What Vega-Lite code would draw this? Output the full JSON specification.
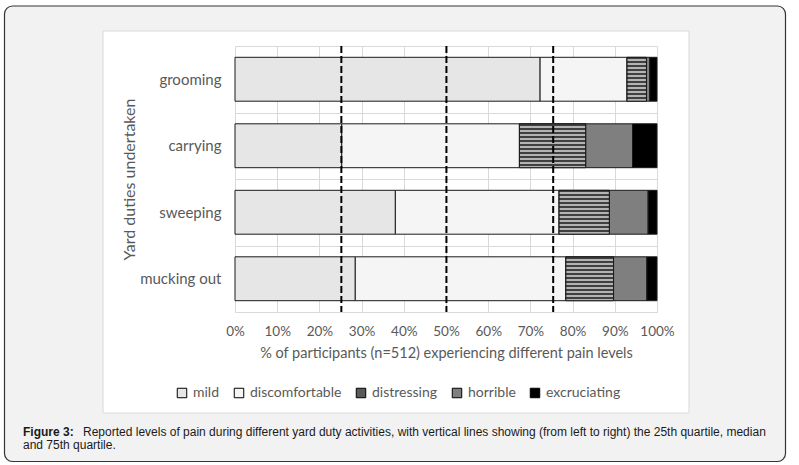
{
  "$schema": "https://vega.github.io/schema/vega-lite/v6.json",
  "width": 422,
  "height": 266,
  "autosize": "none",
  "padding": {"left": 235, "top": 46, "right": 142, "bottom": 153},
  "background": "white",
  "config": {"view": {"stroke": null}, "font": "Lato"},
  "title": {
    "text": "Figure 3:",
    "subtitle": ["\u200b\u00a0\u00a0\u00a0\u00a0\u00a0\u00a0\u00a0\u00a0\u00a0\u00a0\u00a0\u00a0\u00a0\u00a0\u00a0\u00a0\u00a0\u00a0Reported levels of pain during different yard duty activities, with vertical lines showing (from left to right) the 25th quartile, median", "and 75th quartile."],
    "orient": "bottom",
    "anchor": "start",
    "frame": "group",
    "dx": -212,
    "offset": -35,
    "zindex": 1,
    "font": "Liberation Sans",
    "fontSize": 12,
    "fontWeight": "bold",
    "color": "#1a1a1a",
    "subtitleFont": "Liberation Sans",
    "subtitleFontSize": 12,
    "subtitleColor": "#1a1a1a",
    "subtitlePadding": -12,
    "subtitleLineHeight": 13
  },
  "layer": [
    {
      "data": {"values": [{}]},
      "layer": [
        {
          "mark": {"type": "rect", "fill": "#f2f2f2", "cornerRadiusTopLeft": 8, "cornerRadiusTopRight": 8},
          "encoding": {
            "x": {"datum": 4.5, "type": "quantitative", "scale": {"domain": [0, 799], "range": [-235, 564], "nice": false, "zero": false}, "axis": null},
            "x2": {"datum": 785.5},
            "y": {"datum": 6, "type": "quantitative", "scale": {"domain": [0, 465], "range": [-46, 419], "nice": false, "zero": false}, "axis": null},
            "y2": {"datum": 31}
          }
        },
        {
          "mark": {"type": "rect", "fill": "#f2f2f2", "cornerRadiusBottomLeft": 8, "cornerRadiusBottomRight": 8},
          "encoding": {
            "x": {"datum": 4.5, "type": "quantitative"},
            "x2": {"datum": 785.5},
            "y": {"datum": 413, "type": "quantitative"},
            "y2": {"datum": 461.5}
          }
        },
        {
          "mark": {"type": "rect", "fill": "#f2f2f2"},
          "encoding": {
            "x": {"datum": 4.5, "type": "quantitative"},
            "x2": {"datum": 103},
            "y": {"datum": 30.5, "type": "quantitative"},
            "y2": {"datum": 413.5}
          }
        },
        {
          "mark": {"type": "rect", "fill": "#f2f2f2"},
          "encoding": {
            "x": {"datum": 689, "type": "quantitative"},
            "x2": {"datum": 785.5},
            "y": {"datum": 30.5, "type": "quantitative"},
            "y2": {"datum": 413.5}
          }
        },
        {
          "mark": {"type": "rect", "filled": false, "stroke": "#333333", "strokeWidth": 1.2, "cornerRadius": 8},
          "encoding": {
            "x": {"datum": 4.5, "type": "quantitative"},
            "x2": {"datum": 785.5},
            "y": {"datum": 6, "type": "quantitative"},
            "y2": {"datum": 461.5}
          }
        },
        {
          "mark": {"type": "rect", "filled": false, "stroke": "#d9d9d9", "strokeWidth": 1},
          "encoding": {
            "x": {"datum": 103, "type": "quantitative"},
            "x2": {"datum": 689},
            "y": {"datum": 31, "type": "quantitative"},
            "y2": {"datum": 413}
          }
        }
      ]
    },
    {
      "layer": [
        {
          "data": {"name": "pain"},
          "transform": [{"stack": "pct", "groupby": ["duty"], "sort": [{"field": "rank", "order": "ascending"}], "as": ["x0", "x1"]}],
          "mark": {"type": "bar", "stroke": "#1a1a1a", "strokeWidth": 1, "height": {"band": 0.66}},
          "encoding": {
            "x": {
              "field": "x0", "type": "quantitative",
              "scale": {"domain": [0, 100], "nice": false},
              "axis": {
                "orient": "bottom",
                "values": [0, 10, 20, 30, 40, 50, 60, 70, 80, 90, 100],
                "labelExpr": "datum.value + '%'",
                "labelOverlap": false, "labelFlush": false,
                "labelFontSize": 13.5, "labelColor": "#595959", "labelPadding": 12,
                "ticks": false, "domain": true, "domainColor": "#d9d9d9",
                "grid": true, "gridColor": "#d9d9d9",
                "title": "% of participants (n=512) experiencing different pain levels",
                "titleFontSize": 14.5, "titleFontWeight": "normal", "titleColor": "#595959", "titlePadding": 9
              }
            },
            "x2": {"field": "x1"},
            "y": {
              "field": "duty", "type": "nominal",
              "sort": ["grooming", "carrying", "sweeping", "mucking out"],
              "scale": {"paddingInner": 0, "paddingOuter": 0},
              "axis": {
                "orient": "left",
                "labelFontSize": 15, "labelColor": "#595959", "labelPadding": 14,
                "ticks": false, "domain": false,
                "grid": true, "gridColor": "#d9d9d9", "tickBand": "extent",
                "title": "Yard duties undertaken",
                "titleFontSize": 16, "titleFontWeight": "normal", "titleColor": "#595959", "titlePadding": 2
              }
            },
            "color": {
              "field": "level", "type": "nominal",
              "scale": {
                "domain": ["mild", "discomfortable", "distressing", "horrible", "excruciating"],
                "range": ["#e6e6e6", "#f5f5f5", "#595959", "#7f7f7f", "#000000"]
              },
              "legend": {
                "orient": "none", "direction": "horizontal", "legendX": -60, "legendY": 340,
                "title": null, "symbolType": "square", "symbolSize": 90,
                "symbolStrokeColor": "#000000", "symbolStrokeWidth": 1,
                "labelFontSize": 14, "labelColor": "#595959", "columnPadding": 12, "labelOffset": 4
              }
            }
          }
        },
        {
          "data": {"name": "pain"},
          "transform": [
            {"stack": "pct", "groupby": ["duty"], "sort": [{"field": "rank", "order": "ascending"}], "as": ["x0", "x1"]},
            {"filter": "datum.level === 'distressing'"}
          ],
          "mark": {
            "type": "bar", "stroke": "#1a1a1a", "strokeWidth": 1, "height": {"band": 0.66},
            "fill": {
              "gradient": "linear", "x1": 0, "y1": 0, "x2": 0, "y2": 1,
              "stops": [
                {"offset": 0, "color": "#404040"}, {"offset": 0.0455, "color": "#404040"}, {"offset": 0.0455, "color": "#b3b3b3"}, {"offset": 0.0909, "color": "#b3b3b3"},
                {"offset": 0.0909, "color": "#404040"}, {"offset": 0.1364, "color": "#404040"}, {"offset": 0.1364, "color": "#b3b3b3"}, {"offset": 0.1818, "color": "#b3b3b3"},
                {"offset": 0.1818, "color": "#404040"}, {"offset": 0.2273, "color": "#404040"}, {"offset": 0.2273, "color": "#b3b3b3"}, {"offset": 0.2727, "color": "#b3b3b3"},
                {"offset": 0.2727, "color": "#404040"}, {"offset": 0.3182, "color": "#404040"}, {"offset": 0.3182, "color": "#b3b3b3"}, {"offset": 0.3636, "color": "#b3b3b3"},
                {"offset": 0.3636, "color": "#404040"}, {"offset": 0.4091, "color": "#404040"}, {"offset": 0.4091, "color": "#b3b3b3"}, {"offset": 0.4545, "color": "#b3b3b3"},
                {"offset": 0.4545, "color": "#404040"}, {"offset": 0.5, "color": "#404040"}, {"offset": 0.5, "color": "#b3b3b3"}, {"offset": 0.5455, "color": "#b3b3b3"},
                {"offset": 0.5455, "color": "#404040"}, {"offset": 0.5909, "color": "#404040"}, {"offset": 0.5909, "color": "#b3b3b3"}, {"offset": 0.6364, "color": "#b3b3b3"},
                {"offset": 0.6364, "color": "#404040"}, {"offset": 0.6818, "color": "#404040"}, {"offset": 0.6818, "color": "#b3b3b3"}, {"offset": 0.7273, "color": "#b3b3b3"},
                {"offset": 0.7273, "color": "#404040"}, {"offset": 0.7727, "color": "#404040"}, {"offset": 0.7727, "color": "#b3b3b3"}, {"offset": 0.8182, "color": "#b3b3b3"},
                {"offset": 0.8182, "color": "#404040"}, {"offset": 0.8636, "color": "#404040"}, {"offset": 0.8636, "color": "#b3b3b3"}, {"offset": 0.9091, "color": "#b3b3b3"},
                {"offset": 0.9091, "color": "#404040"}, {"offset": 0.9545, "color": "#404040"}, {"offset": 0.9545, "color": "#b3b3b3"}, {"offset": 1, "color": "#b3b3b3"}
              ]
            }
          },
          "encoding": {
            "x": {"field": "x0", "type": "quantitative"},
            "x2": {"field": "x1"},
            "y": {
              "field": "duty", "type": "nominal",
              "sort": ["grooming", "carrying", "sweeping", "mucking out"]
            }
          }
        },
        {
          "data": {"values": [{"quartile": "25th", "q": 25.2}, {"quartile": "median", "q": 50.1}, {"quartile": "75th", "q": 75.4}]},
          "mark": {"type": "rule", "color": "#000000", "strokeWidth": 2, "strokeDash": [7, 3]},
          "encoding": {"x": {"field": "q", "type": "quantitative"}}
        }
      ]
    }
  ],
  "resolve": {"scale": {"x": "independent", "y": "independent"}},
  "datasets": {
    "pain": [
      {"duty": "grooming", "level": "mild", "rank": 1, "pct": 72.3},
      {"duty": "grooming", "level": "discomfortable", "rank": 2, "pct": 20.6},
      {"duty": "grooming", "level": "distressing", "rank": 3, "pct": 4.6},
      {"duty": "grooming", "level": "horrible", "rank": 4, "pct": 0.8},
      {"duty": "grooming", "level": "excruciating", "rank": 5, "pct": 1.7},
      {"duty": "carrying", "level": "mild", "rank": 1, "pct": 25.3},
      {"duty": "carrying", "level": "discomfortable", "rank": 2, "pct": 42.1},
      {"duty": "carrying", "level": "distressing", "rank": 3, "pct": 15.7},
      {"duty": "carrying", "level": "horrible", "rank": 4, "pct": 11.1},
      {"duty": "carrying", "level": "excruciating", "rank": 5, "pct": 5.8},
      {"duty": "sweeping", "level": "mild", "rank": 1, "pct": 38.0},
      {"duty": "sweeping", "level": "discomfortable", "rank": 2, "pct": 38.8},
      {"duty": "sweeping", "level": "distressing", "rank": 3, "pct": 11.9},
      {"duty": "sweeping", "level": "horrible", "rank": 4, "pct": 9.2},
      {"duty": "sweeping", "level": "excruciating", "rank": 5, "pct": 2.1},
      {"duty": "mucking out", "level": "mild", "rank": 1, "pct": 28.5},
      {"duty": "mucking out", "level": "discomfortable", "rank": 2, "pct": 49.9},
      {"duty": "mucking out", "level": "distressing", "rank": 3, "pct": 11.3},
      {"duty": "mucking out", "level": "horrible", "rank": 4, "pct": 7.9},
      {"duty": "mucking out", "level": "excruciating", "rank": 5, "pct": 2.4}
    ]
  }
}
